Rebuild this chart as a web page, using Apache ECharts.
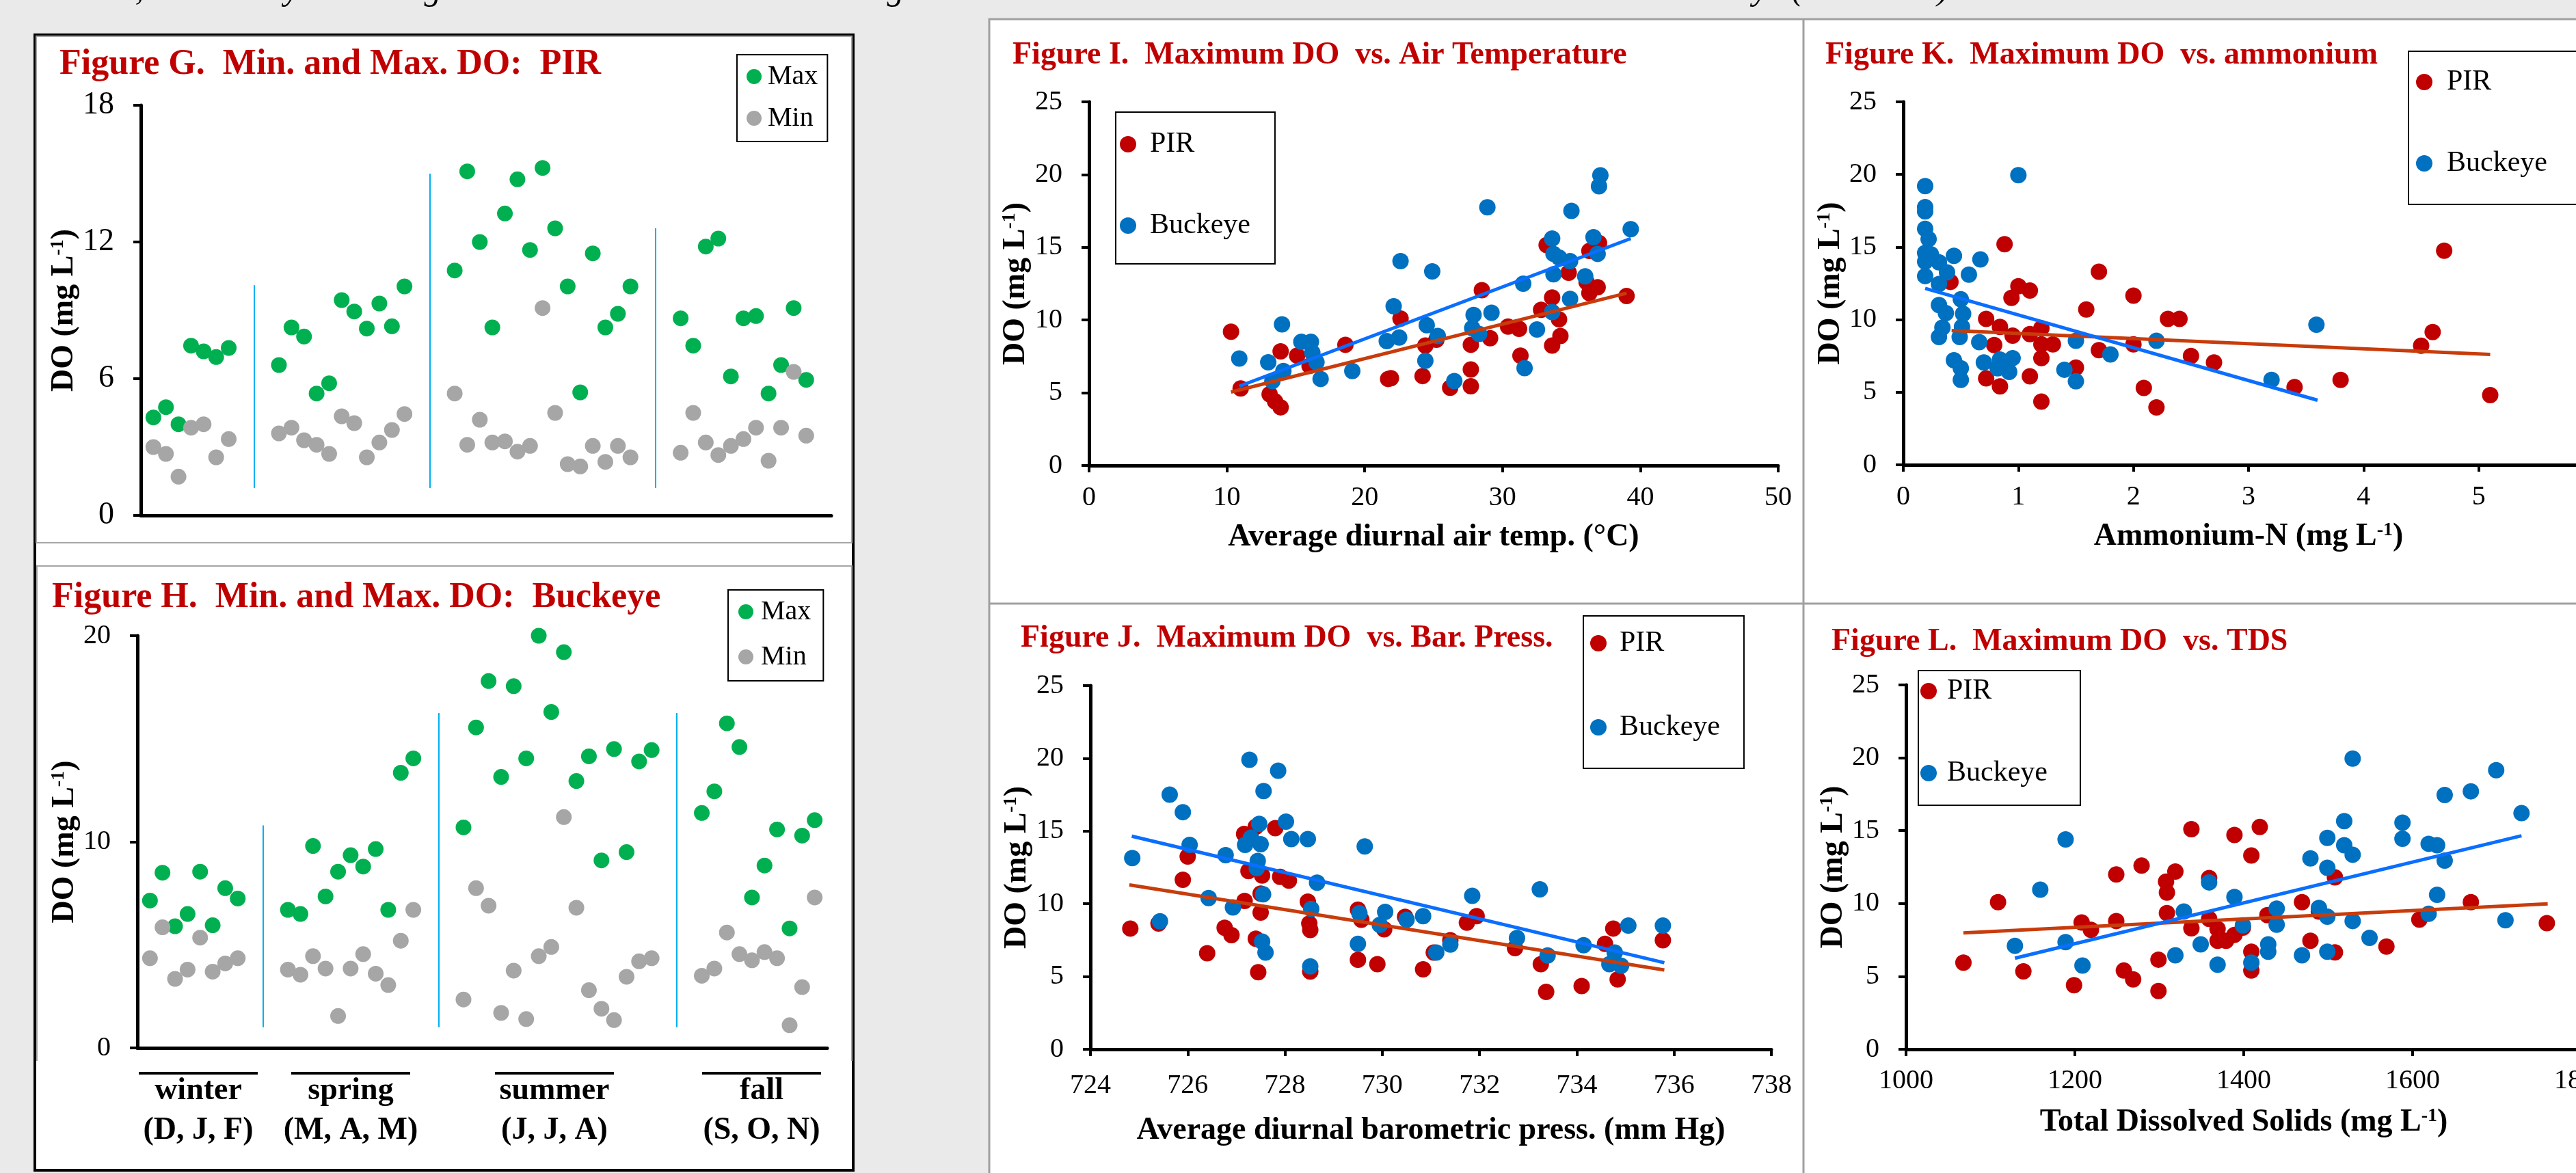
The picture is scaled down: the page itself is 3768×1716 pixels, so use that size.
<!DOCTYPE html>
<html>
<head>
<meta charset="utf-8">
<title>Min/Max DO figures G-L</title>
<script src="https://cdn.jsdelivr.net/npm/echarts@6/dist/echarts.min.js"></script>
<style>
    html, body { margin: 0; padding: 0; background: #eaeaea; }
    #main { width: 3768px; height: 1716px; }
</style>
</head>
<body>
<div id="main"></div>
<script>
// ---- Figure G (PIR) : max / min DO, points listed season by season
var gSeasonSizes = [7, 11, 15, 11];
var gMax = [4.3, 4.75, 4.0, 7.45, 7.2, 6.95, 7.35,
    6.6, 8.25, 7.85, 5.35, 5.8, 9.45, 8.95, 8.2, 9.3, 8.3, 10.05,
    10.75, 15.1, 12.0, 8.25, 13.25, 14.75, 11.65, 15.25, 12.6, 10.05, 5.4, 11.5, 8.25, 8.85, 10.05,
    8.65, 7.45, 11.8, 12.15, 6.1, 8.65, 8.75, 5.35, 6.6, 9.1, 5.95];
var gMin = [3.0, 2.7, 1.7, 3.85, 4.0, 2.55, 3.35,
    3.6, 3.85, 3.3, 3.1, 2.7, 4.35, 4.05, 2.55, 3.2, 3.75, 4.45,
    5.35, 3.1, 4.2, 3.2, 3.25, 2.8, 3.05, 9.1, 4.5, 2.25, 2.15, 3.05, 2.35, 3.05, 2.55,
    2.75, 4.5, 3.2, 2.65, 3.05, 3.35, 3.85, 2.4, 3.85, 6.3, 3.5];
var gSeparatorTop = [10.1, 15.0, 12.6];
var gSeparatorBottom = 1.2;

// ---- Figure H (Buckeye)
var hSeasonSizes = [8, 11, 16, 10];
var hMax = [7.15, 8.5, 5.9, 6.5, 8.55, 5.95, 7.75, 7.25,
    6.7, 6.5, 9.8, 7.35, 8.55, 9.35, 8.8, 9.65, 6.7, 13.35, 14.05,
    10.7, 15.55, 17.8, 13.15, 17.55, 14.05, 20.0, 16.3, 19.2, 12.95, 14.15, 9.1, 14.5, 9.5, 13.9, 14.45,
    11.4, 12.45, 15.75, 14.6, 7.3, 8.85, 10.6, 5.8, 10.3, 11.05];
var hMin = [4.35, 5.85, 3.35, 3.8, 5.35, 3.7, 4.1, 4.35,
    3.8, 3.55, 4.45, 3.85, 1.55, 3.85, 4.55, 3.6, 3.05, 5.2, 6.7,
    2.35, 7.75, 6.9, 1.7, 3.75, 1.4, 4.45, 4.9, 11.2, 6.8, 2.8, 1.9, 1.35, 3.45, 4.2, 4.35,
    3.5, 3.85, 5.6, 4.55, 4.25, 4.65, 4.35, 1.1, 2.95, 7.3];
var hSeparatorTop = [10.8, 16.25, 16.25];
var hSeparatorBottom = 1.0;

var seasonNames = ['winter', 'spring', 'summer', 'fall'];
var seasonMonths = ['(D, J, F)', '(M, A, M)', '(J, J, A)', '(S, O, N)'];

// ---- Figure I: max DO vs air temperature [temp, DO]
var iPIR = [[10.3,9.2],[11.0,5.3],[13.1,4.9],[13.5,4.4],[13.9,4.0],[13.9,7.85],[15.1,7.55],[16.0,6.85],[16.4,7.2],[18.6,8.3],
    [21.7,5.95],[21.9,6.0],[22.6,10.1],[24.2,6.15],[24.4,8.25],[25.2,8.65],[26.2,5.35],[27.7,5.45],[27.7,6.6],[27.7,8.3],
    [28.5,12.05],[29.1,8.75],[30.4,9.55],[31.2,9.4],[31.3,7.55],[32.8,10.7],[33.2,15.15],[33.6,11.55],[33.6,8.25],[34.1,10.05],
    [34.2,8.9],[34.8,13.25],[36.1,12.6],[36.3,11.85],[36.3,14.75],[36.9,12.25],[37.0,15.3],[39.0,11.65]];
var iBuckeye = [[10.9,7.35],[13.0,7.1],[13.3,5.8],[14.1,6.5],[14.0,9.7],[15.4,8.5],[16.1,8.5],[16.2,7.75],[16.8,5.95],[16.5,7.1],
    [19.1,6.5],[21.6,8.55],[22.1,10.95],[22.6,14.05],[22.5,8.8],[24.5,9.65],[24.4,7.2],[24.9,13.35],[25.3,8.9],[26.5,5.8],
    [27.9,10.35],[27.8,9.45],[28.3,9.05],[28.9,17.75],[29.2,10.5],[31.5,12.5],[31.6,6.7],[32.5,9.35],[33.6,15.6],[33.7,14.55],
    [33.7,13.15],[34.1,14.3],[33.6,10.55],[34.9,14.05],[34.9,11.45],[35.0,17.5],[36.0,13.0],[36.6,15.7],[36.9,14.55],[37.1,19.95],
    [37.0,19.2],[39.3,16.25]];
var iTrendPIR = [[10.3,5.05],[39.0,11.85]];
var iTrendBuckeye = [[10.9,5.45],[39.3,15.6]];

// ---- Figure J: max DO vs barometric pressure [mm Hg, DO]
var jPIR = [[724.82,8.3],[725.4,8.65],[725.9,11.65],[726.0,13.25],[726.4,6.6],[726.76,8.35],[726.9,7.85],[727.16,14.8],[727.17,10.2],
    [727.25,12.25],[727.4,7.6],[727.45,5.3],[727.5,9.4],[727.53,11.95],[727.5,10.7],[727.4,15.3],[727.8,15.2],[727.9,11.85],
    [728.08,11.6],[728.47,10.15],[728.5,8.65],[728.52,8.2],[728.52,5.35],[729.5,9.6],[729.57,8.9],[729.5,6.15],[729.9,5.85],
    [730.04,8.25],[730.47,9.1],[730.84,5.5],[731.06,6.65],[731.4,7.5],[731.74,8.7],[731.94,9.15],[732.73,6.95],[733.26,5.85],
    [733.37,3.95],[734.1,4.35],[734.58,7.25],[734.75,8.3],[734.84,4.8],[735.77,7.5]];
var jBuckeye = [[724.86,13.15],[725.43,8.8],[725.63,17.5],[725.9,16.3],[726.04,14.05],[726.43,10.4],[726.78,13.35],[726.93,9.75],
    [727.18,14.05],[727.27,19.9],[727.3,14.55],[727.47,15.5],[727.44,12.95],[727.42,12.45],[727.5,14.1],[727.55,10.65],[727.53,7.4],
    [727.6,6.65],[727.56,17.75],[727.86,19.15],[728.02,15.65],[728.13,14.45],[728.47,14.45],[728.54,9.65],[728.52,5.7],[728.66,11.45],
    [729.5,7.25],[729.53,9.35],[729.64,13.95],[729.95,8.55],[730.06,9.45],[730.5,8.9],[730.84,9.15],[731.11,6.65],[731.4,7.2],
    [731.85,10.55],[732.77,7.65],[733.24,11.0],[733.4,6.45],[734.14,7.15],[734.67,5.85],[734.78,6.65],[734.91,5.75],[735.06,8.5],
    [735.77,8.5]];
var jTrendPIR = [[724.8,11.3],[735.8,5.45]];
var jTrendBuckeye = [[724.85,14.65],[735.8,5.95]];

// ---- Figure K: max DO vs ammonium-N [mg/L, DO]
var kPIR = [[0.41,12.6],[0.72,10.05],[0.72,5.95],[0.79,8.25],[0.84,9.5],[0.84,5.4],[0.88,15.2],[0.94,11.5],[0.95,8.9],[1.0,12.3],
    [1.1,12.0],[1.1,9.0],[1.1,6.1],[1.2,9.4],[1.2,8.3],[1.2,7.35],[1.2,4.35],[1.3,8.3],[1.5,6.7],[1.59,10.7],[1.7,13.3],[1.7,7.9],
    [2.0,11.65],[2.0,8.3],[2.09,5.3],[2.2,3.95],[2.3,10.05],[2.4,10.05],[2.5,7.5],[2.7,7.05],[3.4,5.35],[3.8,5.85],[4.5,8.2],
    [4.6,9.15],[4.7,14.75],[5.1,4.8]];
var kBuckeye = [[0.19,19.2],[0.19,17.75],[0.19,17.45],[0.19,16.25],[0.22,15.55],[0.19,14.6],[0.19,14.0],[0.19,13.0],[0.24,14.5],
    [0.31,13.95],[0.38,13.25],[0.31,12.45],[0.44,14.4],[0.57,13.1],[0.67,14.15],[0.31,11.0],[0.37,10.45],[0.34,9.45],[0.31,8.8],
    [0.5,11.4],[0.52,10.4],[0.51,9.5],[0.49,8.8],[0.44,7.2],[0.5,6.65],[0.5,5.85],[0.66,8.45],[0.7,7.05],[0.82,6.65],[0.84,7.25],
    [0.92,6.4],[0.95,7.35],[1.0,19.95],[1.4,6.55],[1.5,8.55],[1.5,5.75],[1.8,7.6],[2.2,8.55],[3.2,5.85],[3.59,9.65]];
var kTrendPIR = [[0.42,9.25],[5.1,7.6]];
var kTrendBuckeye = [[0.19,12.15],[3.6,4.45]];

// ---- Figure L: max DO vs TDS [mg/L, DO]
var lPIR = [[1068,5.95],[1109,10.1],[1139,5.35],[1199,4.4],[1208,8.7],[1219,8.2],[1249,12.0],[1249,8.8],[1258,5.4],[1269,4.8],
    [1279,12.6],[1299,6.15],[1299,4.0],[1308,11.5],[1309,10.75],[1309,9.35],[1319,12.2],[1338,15.1],[1338,8.3],[1359,11.75],
    [1359,8.95],[1369,8.25],[1369,7.45],[1379,7.45],[1389,7.85],[1389,14.7],[1399,8.35],[1409,13.3],[1409,6.7],[1409,5.4],
    [1419,15.25],[1428,9.2],[1469,10.1],[1479,7.45],[1489,9.45],[1508,11.8],[1508,6.65],[1569,7.05],[1608,8.9],[1669,10.1],
    [1759,8.65]];
var lBuckeye = [[1129,7.1],[1159,10.95],[1189,14.4],[1189,7.35],[1209,5.75],[1319,6.45],[1329,9.45],[1349,7.2],[1359,11.45],
    [1369,5.8],[1389,10.45],[1399,8.5],[1409,5.95],[1429,7.2],[1429,6.7],[1439,9.65],[1439,8.55],[1469,6.45],[1479,13.1],
    [1489,9.7],[1499,14.5],[1499,12.45],[1499,9.1],[1499,6.7],[1519,15.65],[1519,14.0],[1529,19.95],[1529,13.35],[1529,8.8],
    [1549,7.65],[1588,15.55],[1588,14.45],[1619,14.1],[1619,9.3],[1629,14.0],[1629,10.6],[1638,17.45],[1638,12.95],[1669,17.7],
    [1699,19.15],[1710,8.85],[1729,16.2]];
var lTrendPIR = [[1068,7.98],[1760,9.98]];
var lTrendBuckeye = [[1129,6.25],[1729,14.65]];

var FONT = '"Liberation Serif", "Times New Roman", serif';
var RED = '#c00000';

// x position of each point: consecutive, with a gap of 3 empty slots between seasons
function seasonPoints(values, sizes) {
    var pts = [], i = 0;
    sizes.forEach(function (n, s) {
        for (var k = 0; k < n; k++) {
            pts.push([i + 1 + 3 * s, values[i]]);
            i++;
        }
    });
    return pts;
}

function separators(sizes, tops, bottom) {
    var out = [], end = 0;
    for (var s = 0; s < sizes.length - 1; s++) {
        end += sizes[s];
        var x = end + 3 * s + 2;
        out.push([{ coord: [x, bottom] }, { coord: [x, tops[s]] }]);
    }
    return out;
}

var supRich = { sup: { fontFamily: FONT, fontSize: 28, fontWeight: 'bold', color: '#000', verticalAlign: 'top' } };

function yAxisDO(grid, max, interval, labelSize, gap) {
    return {
        type: 'value', gridIndex: grid, min: 0, max: max, interval: interval,
        name: 'DO (mg L{sup|-1})', nameLocation: 'middle', nameRotate: 90, nameGap: gap,
        nameTextStyle: { fontFamily: FONT, fontSize: 46, fontWeight: 'bold', color: '#000', rich: supRich },
        axisLine: { show: true, lineStyle: { color: '#000', width: 5 } },
        axisTick: { show: true, inside: false, length: 11, lineStyle: { color: '#000', width: 4 } },
        axisLabel: { fontFamily: FONT, fontSize: labelSize, color: '#000', margin: 39 },
        splitLine: { show: false }
    };
}

function xAxisValue(grid, min, max, interval, name, nameGap, labelMargin) {
    return {
        type: 'value', gridIndex: grid, min: min, max: max, interval: interval,
        name: name, nameLocation: 'middle', nameGap: nameGap,
        nameTextStyle: { fontFamily: FONT, fontSize: 46, fontWeight: 'bold', color: '#000', rich: supRich },
        axisLine: { show: true, onZero: false, lineStyle: { color: '#000', width: 5 } },
        axisTick: { show: true, inside: false, length: 10, lineStyle: { color: '#000', width: 4 } },
        axisLabel: {
            fontFamily: FONT, fontSize: 40, color: '#000', margin: labelMargin,
            formatter: function (v) { return String(v); }
        },
        splitLine: { show: false }
    };
}

function seasonXAxis(grid) {
    return {
        type: 'value', gridIndex: grid, min: 0, max: 55,
        axisLine: { show: true, onZero: false, lineStyle: { color: '#000', width: 5 } },
        axisTick: { show: false }, axisLabel: { show: false }, splitLine: { show: false }
    };
}

function dots(name, data, color, xi, size, extra) {
    var s = {
        name: name, type: 'scatter', xAxisIndex: xi, yAxisIndex: xi,
        data: data, symbol: 'circle', symbolSize: size,
        itemStyle: { color: color, opacity: 1 }
    };
    return Object.assign(s, extra || {});
}

function trend(data, color, xi) {
    return {
        name: 'trend', type: 'line', xAxisIndex: xi, yAxisIndex: xi, data: data,
        showSymbol: false, symbol: 'none', silent: true, z: 5,
        lineStyle: { color: color, width: 5 }
    };
}

function sepMark(sizes, tops, bottom) {
    return {
        markLine: {
            silent: true, symbol: 'none', label: { show: false },
            lineStyle: { color: '#00b0f0', width: 2, type: 'solid' },
            data: separators(sizes, tops, bottom)
        }
    };
}

function legendBox(left, top, names, iconW, size, gap, padding) {
    return {
        left: left, top: top, orient: 'vertical', data: names, icon: 'circle',
        itemWidth: iconW, itemHeight: size, itemGap: gap, padding: padding,
        selectedMode: false, borderColor: '#000', borderWidth: 2, backgroundColor: '#fff',
        textStyle: { fontFamily: FONT, fontSize: size > 22 ? 42 : 40, lineHeight: size > 22 ? 42 : 40, color: '#000' }
    };
}

function titleText(x, y, text, size) {
    return {
        type: 'text', x: x, y: y, z: 10,
        style: { text: text, font: 'bold ' + size + 'px ' + FONT, fill: RED, verticalAlign: 'middle' }
    };
}

var myChart = echarts.init(document.getElementById('main'), null, { renderer: 'canvas' });

var graphics = [
    // left block: black frame, two chart areas with grey borders
    { type: 'rect', z: -10, shape: { x: 51, y: 51, width: 1197, height: 1661 }, style: { fill: '#fff', stroke: '#000', lineWidth: 4 } },
    { type: 'rect', z: -9, shape: { x: 53, y: 53, width: 1193, height: 741 }, style: { fill: '#fff', stroke: '#a6a6a6', lineWidth: 2 } },
    { type: 'polyline', z: -9, shape: { points: [[54, 1552], [54, 828], [1246, 828], [1246, 1552]] }, style: { fill: null, stroke: '#a6a6a6', lineWidth: 2 } },
    // right block: white panel split in four
    { type: 'rect', z: -10, shape: { x: 1447, y: 28, width: 2330, height: 1700 }, style: { fill: '#fff', stroke: '#a0a0a0', lineWidth: 3 } },
    { type: 'line', z: -9, shape: { x1: 2638, y1: 28, x2: 2638, y2: 1716 }, style: { stroke: '#a0a0a0', lineWidth: 3 } },
    { type: 'line', z: -9, shape: { x1: 1447, y1: 883, x2: 3768, y2: 883 }, style: { stroke: '#a0a0a0', lineWidth: 3 } },
    titleText(87, 95, 'Figure G.  Min. and Max. DO:  PIR', 52),
    titleText(76, 875, 'Figure H.  Min. and Max. DO:  Buckeye', 52),
    titleText(1481, 81, 'Figure I.  Maximum DO  vs. Air Temperature', 46),
    titleText(1493, 934, 'Figure J.  Maximum DO  vs. Bar. Press.', 46),
    titleText(2670, 81, 'Figure K.  Maximum DO  vs. ammonium', 46),
    titleText(2679, 939, 'Figure L.  Maximum DO  vs. TDS', 46)
];

// season labels under Figure H
var seasonCenters = [290, 513, 811, 1114];
seasonNames.forEach(function (nm, k) {
    var cx = seasonCenters[k];
    graphics.push({ type: 'line', shape: { x1: cx - 87, y1: 1570, x2: cx + 87, y2: 1570 }, style: { stroke: '#000', lineWidth: 4 } });
    graphics.push({ type: 'text', x: cx, y: 1596, style: { text: nm, font: 'bold 46px ' + FONT, fill: '#000', align: 'center', verticalAlign: 'middle' } });
    graphics.push({ type: 'text', x: cx, y: 1654, style: { text: seasonMonths[k], font: 'bold 46px ' + FONT, fill: '#000', align: 'center', verticalAlign: 'middle' } });
});

// descenders of the text line cut off at the top of the page
var cutGlyphs = [[',', 204], ['y', 427], ['g', 633], ['g', 1310], ['y', 2575], ['(', 2629], [')', 2842]];
cutGlyphs.forEach(function (g) {
    graphics.push({ type: 'text', x: g[1], y: 11, style: { text: g[0], font: 'italic 50px ' + FONT, fill: '#000', align: 'center', verticalAlign: 'bottom' } });
});

var option = {
    backgroundColor: '#eaeaea',
    animation: false,
    grid: [
        { left: 206, top: 154, width: 1010, height: 600, outerBoundsMode: 'none' },   // G
        { left: 201, top: 930, width: 1009, height: 603, outerBoundsMode: 'none' },   // H
        { left: 1593, top: 149, width: 1008, height: 532, outerBoundsMode: 'none' },  // I
        { left: 1595, top: 1003, width: 996, height: 532, outerBoundsMode: 'none' },  // J
        { left: 2784, top: 149, width: 1010, height: 531, outerBoundsMode: 'none' },  // K
        { left: 2788, top: 1002, width: 988, height: 533, outerBoundsMode: 'none' }   // L
    ],
    xAxis: [
        seasonXAxis(0),
        seasonXAxis(1),
        xAxisValue(2, 0, 50, 10, 'Average diurnal air temp. (°C)', 82, 27),
        xAxisValue(3, 724, 738, 2, 'Average diurnal barometric press. (mm Hg)', 96, 33),
        xAxisValue(4, 0, 6, 1, 'Ammonium-N (mg L{sup|-1})', 82, 27),
        xAxisValue(5, 1000, 1800, 200, 'Total Dissolved Solids (mg L{sup|-1})', 84, 26)
    ],
    yAxis: [
        yAxisDO(0, 18, 6, 46, 85),
        yAxisDO(1, 20, 10, 40, 80),
        yAxisDO(2, 25, 5, 40, 84),
        yAxisDO(3, 25, 5, 40, 84),
        yAxisDO(4, 25, 5, 40, 82),
        yAxisDO(5, 25, 5, 40, 83)
    ],
    legend: [
        legendBox(1078, 80, ['Max', 'Min'], 30, 22, 21, [12, 14, 14, 14]),
        legendBox(1065, 863, ['Max', 'Min'], 34, 22, 26, [12, 18, 15, 15]),
        legendBox(1632, 164, ['PIR', 'Buckeye'], 54, 24, 77, [26, 36, 35, 6]),
        legendBox(2316, 901, ['PIR', 'Buckeye'], 52, 24, 81, [19, 35, 39, 10]),
        legendBox(3523, 75, ['PIR', 'Buckeye'], 56, 24, 77, [24, 80, 39, 11]),
        legendBox(2806, 981, ['PIR', 'Buckeye'], 44, 24, 78, [9, 48, 26, 3])
    ],
    graphic: { elements: graphics },
    series: [
        dots('Max', seasonPoints(gMax, gSeasonSizes), '#00b050', 0, 23, sepMark(gSeasonSizes, gSeparatorTop, gSeparatorBottom)),
        dots('Min', seasonPoints(gMin, gSeasonSizes), '#a6a6a6', 0, 23),
        dots('Max', seasonPoints(hMax, hSeasonSizes), '#00b050', 1, 23, sepMark(hSeasonSizes, hSeparatorTop, hSeparatorBottom)),
        dots('Min', seasonPoints(hMin, hSeasonSizes), '#a6a6a6', 1, 23),

        dots('PIR', iPIR, RED, 2, 24),
        dots('Buckeye', iBuckeye, '#0070c0', 2, 24),
        trend(iTrendPIR, '#c83c0c', 2),
        trend(iTrendBuckeye, '#0a6eff', 2),

        dots('PIR', jPIR, RED, 3, 24),
        dots('Buckeye', jBuckeye, '#0070c0', 3, 24),
        trend(jTrendPIR, '#c83c0c', 3),
        trend(jTrendBuckeye, '#0a6eff', 3),

        dots('PIR', kPIR, RED, 4, 24),
        dots('Buckeye', kBuckeye, '#0070c0', 4, 24),
        trend(kTrendPIR, '#c83c0c', 4),
        trend(kTrendBuckeye, '#0a6eff', 4),

        dots('PIR', lPIR, RED, 5, 24),
        dots('Buckeye', lBuckeye, '#0070c0', 5, 24),
        trend(lTrendPIR, '#c83c0c', 5),
        trend(lTrendBuckeye, '#0a6eff', 5)
    ]
};

myChart.setOption(option);
</script>
</body>
</html>
